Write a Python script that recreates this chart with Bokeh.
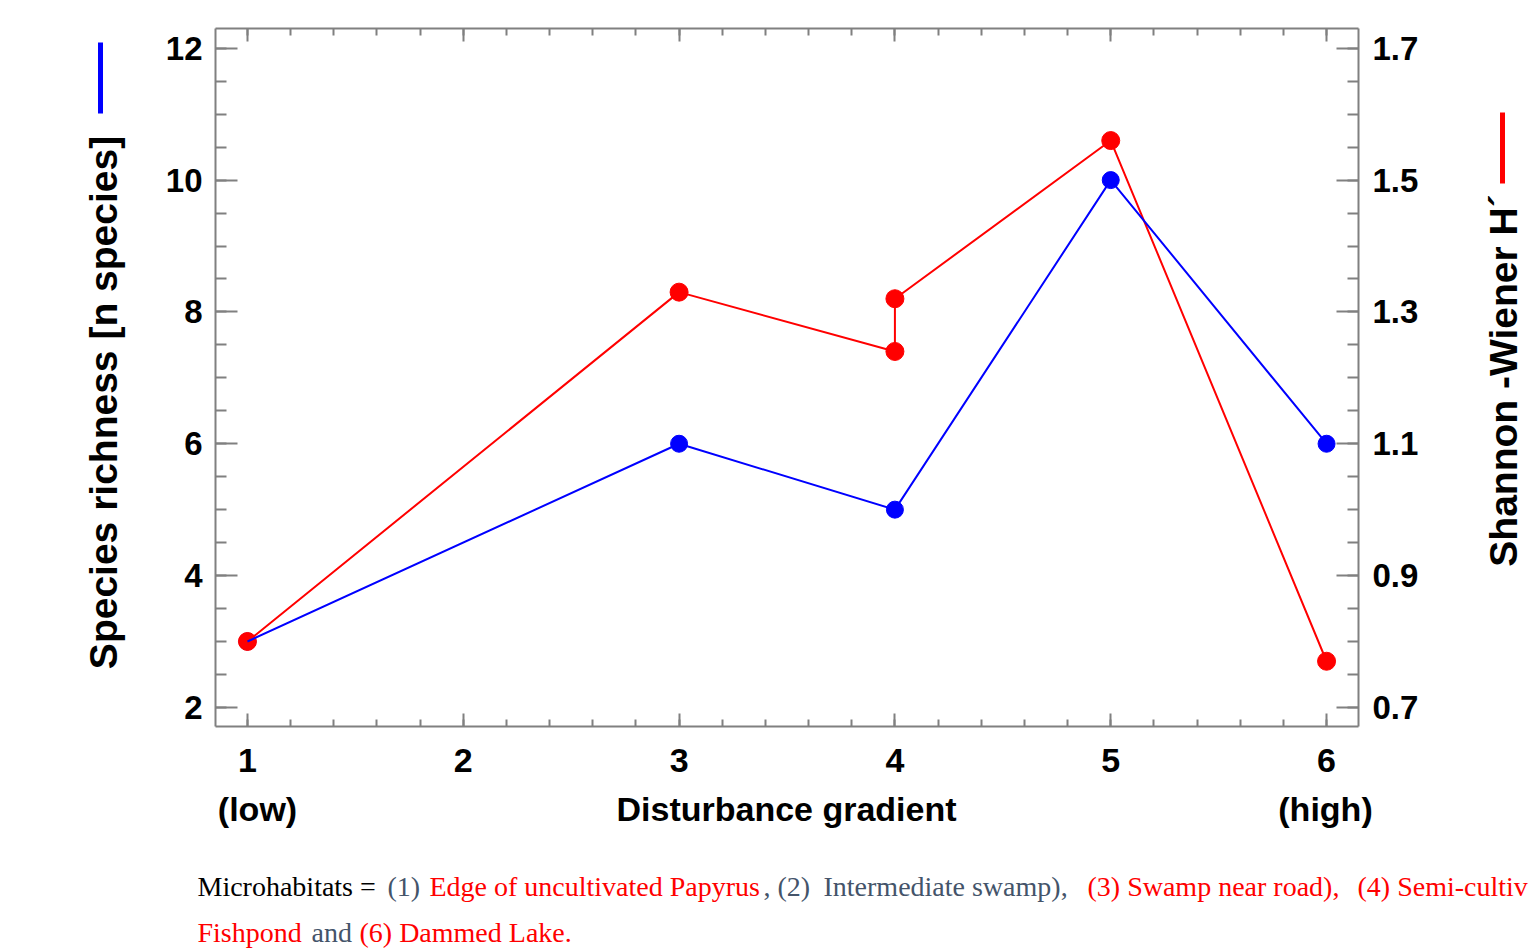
import math
from bokeh.plotting import figure
from bokeh.models import Range1d, LinearAxis, FixedTicker
from bokeh.layouts import row, column
from bokeh.core.properties import value
from bokeh.embed import file_html
from bokeh.resources import INLINE

# ---------------- data ----------------
x_ticks = [1, 2, 3, 4, 5, 6]
x_tick_labels = ["1", "2", "3", "4", "5", "6"]
x_minor = [round(1 + 0.2 * i, 1) for i in range(-1, 27)]
y_left_ticks = [2, 4, 6, 8, 10, 12]
y_left_labels = ["2", "4", "6", "8", "10", "12"]
y_left_minor = [1.5 + 0.5 * i for i in range(0, 24)]
y_right_ticks = [0.7, 0.9, 1.1, 1.3, 1.5, 1.7]
y_right_labels = ["0.7", "0.9", "1.1", "1.3", "1.5", "1.7"]
y_right_minor = [round(0.65 + 0.05 * i, 2) for i in range(0, 24)]

richness_x = [1, 3, 4, 5, 6]
richness = [3, 6, 5, 10, 6]
shannon_x = [1, 3, 4, 4, 5, 6]
shannon = [0.80, 1.33, 1.24, 1.32, 1.56, 0.77]

x_title = "Disturbance gradient"
x_low = "(low)"
x_high = "(high)"
left_title = "Species richness [n species]"
right_title = "Shannon -Wiener H\u00b4"
caption_line1 = [
    ("Microhabitats = ", "#000000"),
    ("(1) ", "#44546A"),
    ("Edge of uncultivated Papyrus", "#FF0000"),
    (", (2) ", "#44546A"),
    ("Intermediate swamp), ", "#44546A"),
    ("(3) Swamp near road), ", "#FF0000"),
    ("(4) Semi-cultiv", "#FF0000"),
]
caption_line2 = [
    ("Fishpond", "#FF0000"),
    ("and", "#44546A"),
    ("(6) Dammed Lake.", "#FF0000"),
]

# ---------------- layout constants (page pixels) ----------------
TOTAL_W = 1528
LEFT_W = 150          # left title strip
RIGHT_W = 90          # right title strip
TOP_H = 790           # height of the plot row
CAP_H = 160           # bottom strip with x title and caption
MAIN_W = TOTAL_W - LEFT_W - RIGHT_W
FRAME_L, FRAME_R, FRAME_T, FRAME_B = 215, 1358, 28, 726

AX = "#808080"
BLUE = "#0000FF"
RED = "#FF0000"

# ---------------- main plot ----------------
y0, y1 = 1.71, 12.3
p = figure(width=MAIN_W, height=TOP_H, output_backend="svg", toolbar_location=None,
           x_range=Range1d(0.852, 6.148), y_range=Range1d(y0, y1),
           min_border_left=FRAME_L - LEFT_W,
           min_border_right=LEFT_W + MAIN_W - FRAME_R,
           min_border_top=FRAME_T, min_border_bottom=TOP_H - FRAME_B)
p.extra_y_ranges = {"h": Range1d(0.7 + (y0 - 2) / 10, 0.7 + (y1 - 2) / 10)}
p.xgrid.visible = False
p.ygrid.visible = False
p.outline_line_color = None


def style(ax, maj_in, min_in, size, standoff):
    ax.axis_line_color = AX
    ax.axis_line_width = 2
    ax.major_tick_line_color = AX
    ax.major_tick_line_width = 2
    ax.minor_tick_line_color = AX
    ax.minor_tick_line_width = 2
    ax.major_tick_in = maj_in
    ax.major_tick_out = 0
    ax.minor_tick_in = min_in
    ax.minor_tick_out = 0
    ax.major_label_text_font = "Liberation Sans"
    ax.major_label_text_font_style = "bold"
    ax.major_label_text_font_size = size
    ax.major_label_text_color = "black"
    ax.major_label_standoff = standoff


xb = p.xaxis[0]
xb.ticker = FixedTicker(ticks=x_ticks, minor_ticks=x_minor)
xb.major_label_overrides = {t: l for t, l in zip(x_ticks, x_tick_labels)}
style(xb, 13, 7, "34px", 22)

yl = p.yaxis[0]
yl.ticker = FixedTicker(ticks=y_left_ticks, minor_ticks=y_left_minor)
yl.major_label_overrides = {t: l for t, l in zip(y_left_ticks, y_left_labels)}
style(yl, 22, 11, "33px", 13)

yr = LinearAxis(y_range_name="h")
yr.ticker = FixedTicker(ticks=y_right_ticks, minor_ticks=y_right_minor)
yr.major_label_overrides = {t: l for t, l in zip(y_right_ticks, y_right_labels)}
style(yr, 22, 11, "33px", 14)
p.add_layout(yr, "right")

xt = LinearAxis()
xt.ticker = FixedTicker(ticks=x_ticks, minor_ticks=x_minor)
style(xt, 13, 7, "0px", 0)
xt.major_label_text_color = None
p.add_layout(xt, "above")

p.scatter(richness_x, richness, size=17, color=BLUE)
p.line(shannon_x, shannon, y_range_name="h", color=RED, line_width=2)
p.scatter(shannon_x, shannon, y_range_name="h", size=18, color=RED)
p.line(richness_x, richness, color=BLUE, line_width=2)


# ---------------- decoration strips (page-pixel coordinates, y = -Y) ----------------
def strip(ox, width, top, bottom, height, bt=0, bb=0):
    # frame spans page rows top..bottom; strip occupies `height` rows
    f = figure(width=width, height=height, output_backend="svg",
               toolbar_location=None, x_range=Range1d(ox, ox + width),
               y_range=Range1d(-bottom, -top), x_axis_location=None,
               y_axis_location=None, min_border_left=0, min_border_right=0,
               min_border_top=bt, min_border_bottom=bb)
    f.grid.visible = False
    f.outline_line_color = None
    return f


def put_text(f, texts, Xs, Ys, colors, font, size, bold,
             angle=0.0, align="center", baseline="middle"):
    f.text(x=list(Xs), y=[-Y for Y in Ys], text=texts,
           text_color=colors, text_font=value(font),
           text_font_size=value(size),
           text_font_style="bold" if bold else "normal",
           angle=angle, text_align=align, text_baseline=baseline)


def put_bar(f, X, Ytop, Ybot, color, w=5):
    f.quad(left=[X - w / 2], right=[X + w / 2], top=[-Ytop], bottom=[-Ybot],
           color=color, line_color=None)


# left strip: title + blue key bar (frame aligned with main plot's frame)
lf = strip(0, LEFT_W, FRAME_T, FRAME_B, TOP_H, FRAME_T, TOP_H - FRAME_B)
put_text(lf, [left_title], [103], [402], ["black"],
         "Liberation Sans", "39px", True, angle=math.pi / 2)
put_bar(lf, 100, 42, 113, BLUE)

# right strip: title + red key bar
ox_r = LEFT_W + MAIN_W
rf = strip(ox_r, RIGHT_W, FRAME_T, FRAME_B, TOP_H, FRAME_T, TOP_H - FRAME_B)
put_text(rf, [right_title], [1503], [380], ["black"],
         "Liberation Sans", "39px", True, angle=math.pi / 2)
put_bar(rf, 1502, 112, 183, RED)

# bottom strip: x title, (low)/(high), caption
cf = strip(0, TOTAL_W, TOP_H, TOP_H + CAP_H, CAP_H)
put_text(cf, [x_low, x_title, x_high], [257, 786, 1325],
         [808, 808, 808], ["black"] * 3, "Liberation Sans", "34px", True)

starts1 = [197, 387, 429, 763, 823, 1087, 1357]
put_text(cf, [t for t, c in caption_line1], starts1,
         [886] * len(starts1), [c for t, c in caption_line1],
         "Liberation Serif", "28px", False, align="left", baseline="alphabetic")
starts2 = [197, 311, 359]
put_text(cf, [t for t, c in caption_line2], starts2,
         [932] * len(starts2), [c for t, c in caption_line2],
         "Liberation Serif", "28px", False, align="left", baseline="alphabetic")

layout = column(row(lf, p, rf, spacing=0), cf, spacing=0)
open("out.html", "w").write(file_html(layout, INLINE))
